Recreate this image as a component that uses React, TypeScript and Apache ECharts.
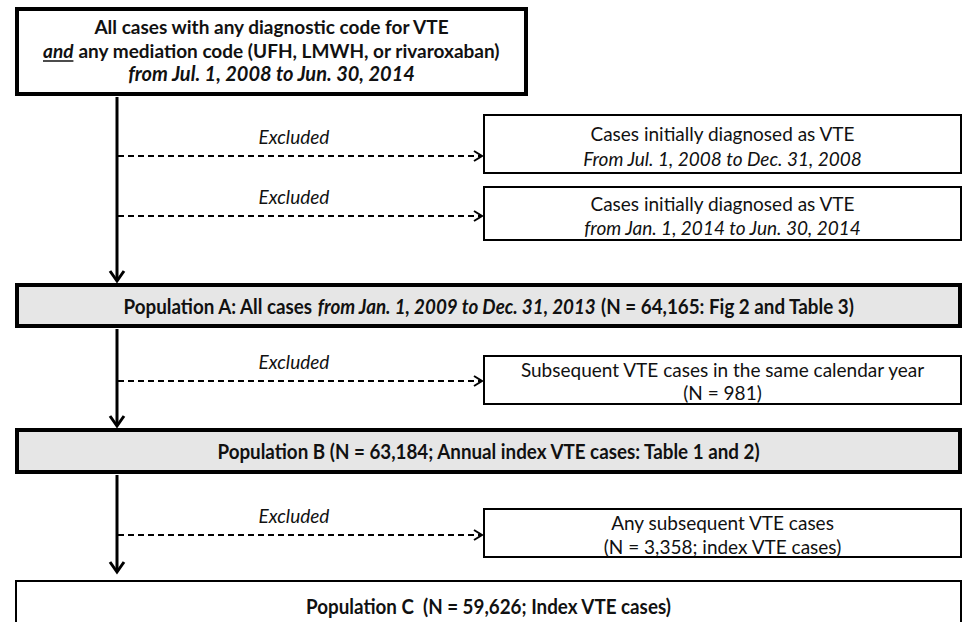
import React, { useEffect, useRef } from "react";
import * as echarts from "echarts";

// ---- content ----
const sourceLine1 = "All cases with any diagnostic code for VTE";
const sourceLine2Lead = "and";
const sourceLine2Rest = " any mediation code (UFH, LMWH, or rivaroxaban)";
const sourceLine3 = "from Jul. 1, 2008 to Jun. 30, 2014";
const excludedLabel = "Excluded";
const exclusionTitles = [
  "Cases initially diagnosed as VTE",
  "Cases initially diagnosed as VTE",
  "Subsequent VTE cases in the same calendar year",
  "Any subsequent VTE cases",
];
const exclusionDetails = [
  "From Jul. 1, 2008 to Dec. 31, 2008",
  "from Jan. 1, 2014 to Jun. 30, 2014",
  "(N = 981)",
  "(N = 3,358; index VTE cases)",
];
const exclusionDetailItalic = [true, true, false, false];
const populationAParts = [
  "Population A: All cases ",
  "from Jan. 1, 2009 to Dec. 31, 2013",
  " (N = 64,165: Fig 2 and Table 3)",
];
const populationBText = "Population B (N = 63,184; Annual index VTE cases: Table 1 and 2)";
const populationCText = "Population C  (N = 59,626; Index VTE cases)";

// ---- layout ----
const FONT = "Lato, 'Open Sans', sans-serif";
const ARROW_X = 117;
const BOX_L = 15;
const BOX_R = 962;
const EX_L = 483;
const EX_CX = (EX_L + BOX_R) / 2;
const EXCL_CX = 294;
const TOP_SIZE = 19;
const TOP_ITALIC_SIZE = 20;
const EX_SIZE = 19;
const POP_SIZE = 20;
const POP_SCALE = 0.94;
// exclusion boxes: [top, bottom, line1 y, line2 y, dashed y]
const exLayout = [
  [114, 174, 133, 158, 156],
  [186, 241, 203, 227, 216],
  [355, 405, 369, 392, 381],
  [508, 558, 522, 546, 535],
];
// solid arrows: [start, tip]
const arrows = [
  [97, 281],
  [329, 426],
  [475, 572],
];

function measure(text: string, font: string): number {
  const c = document.createElement("canvas").getContext("2d");
  if (!c) return text.length * 8;
  c.font = font;
  return c.measureText(text).width;
}

export default function App() {
  const ref = useRef<HTMLDivElement>(null);
  useEffect(() => {
    if (!ref.current) return;
    const chart = echarts.init(ref.current, undefined, { renderer: "svg" });
    const els: any[] = [];

    const rect = (x0: number, y0: number, x1: number, y1: number, lw: number, fill: string) => {
      els.push({
        type: "rect",
        shape: { x: x0 + lw / 2, y: y0 + lw / 2, width: x1 - x0 - lw, height: y1 - y0 - lw },
        style: { fill, stroke: "#000", lineWidth: lw },
      });
    };
    const text = (x: number, y: number, t: string, size: number, weight: string, style: string, scaleX = 1, rich?: any) => {
      els.push({
        type: "text",
        x,
        y,
        scaleX,
        style: {
          text: t,
          fill: "#111",
          fontFamily: FONT,
          fontSize: size,
          fontWeight: weight,
          fontStyle: style,
          align: "center",
          verticalAlign: "middle",
          rich,
        },
      });
    };
    const richStyle = (size: number, weight: string, style: string) => ({
      fontFamily: FONT,
      fontSize: size,
      fontWeight: weight,
      fontStyle: style,
      fill: "#111",
    });

    // Top source box
    rect(BOX_L, 7, 528, 96, 4, "#fff");
    const topCX = (BOX_L + 528) / 2;
    text(topCX, 26, sourceLine1, TOP_SIZE, "bold", "normal");
    text(topCX, 50, `{u|${sourceLine2Lead}}{b|${sourceLine2Rest}}`, TOP_SIZE, "bold", "normal", 1, {
      u: richStyle(TOP_SIZE, "bold", "italic"),
      b: richStyle(TOP_SIZE, "bold", "normal"),
    });
    text(topCX, 73, sourceLine3, TOP_ITALIC_SIZE, "bold", "italic");
    const wLead = measure(sourceLine2Lead, `italic bold ${TOP_SIZE}px ${FONT}`);
    const wRest = measure(sourceLine2Rest, `bold ${TOP_SIZE}px ${FONT}`);
    const left2 = topCX - (wLead + wRest) / 2;
    els.push({
      type: "line",
      shape: { x1: left2, y1: 61, x2: left2 + wLead, y2: 61 },
      style: { stroke: "#111", lineWidth: 1.5 },
    });

    // Exclusion boxes and dashed arrows
    exLayout.forEach(([t, b, l1, l2, dy], i) => {
      rect(EX_L, t, BOX_R, b, 2, "#fff");
      text(EX_CX, l1, exclusionTitles[i], EX_SIZE, "normal", "normal");
      text(EX_CX, l2, exclusionDetails[i], EX_SIZE, "normal", exclusionDetailItalic[i] ? "italic" : "normal");
      text(EXCL_CX, dy - 20, excludedLabel, EX_SIZE, "normal", "italic");
      els.push({
        type: "line",
        shape: { x1: ARROW_X + 1, y1: dy, x2: EX_L - 1, y2: dy },
        style: { stroke: "#000", lineWidth: 2, lineDash: [6, 4] },
      });
      els.push({
        type: "polyline",
        shape: { points: [[EX_L - 9, dy - 5], [EX_L - 1, dy], [EX_L - 9, dy + 5]] },
        style: { stroke: "#000", lineWidth: 2, fill: "none" },
      });
    });

    // Population boxes
    const popCX = (BOX_L + BOX_R) / 2;
    rect(BOX_L, 283, BOX_R, 328, 4, "#e6e6e6");
    text(popCX, 306, `{b|${populationAParts[0]}}{i|${populationAParts[1]}}{b|${populationAParts[2]}}`, POP_SIZE, "bold", "normal", POP_SCALE, {
      b: richStyle(POP_SIZE, "bold", "normal"),
      i: richStyle(POP_SIZE, "bold", "italic"),
    });
    rect(BOX_L, 428, BOX_R, 474, 4, "#e6e6e6");
    text(popCX, 451, populationBText, POP_SIZE, "bold", "normal", POP_SCALE);
    rect(BOX_L, 580, BOX_R, 640, 2, "#fff");
    text(popCX, 606, populationCText, POP_SIZE, "bold", "normal", POP_SCALE);

    // Solid arrows
    arrows.forEach(([y0, tip]) => {
      els.push({
        type: "line",
        shape: { x1: ARROW_X, y1: y0, x2: ARROW_X, y2: tip - 1 },
        style: { stroke: "#000", lineWidth: 3 },
      });
      els.push({
        type: "polyline",
        shape: { points: [[ARROW_X - 7, tip - 10], [ARROW_X, tip], [ARROW_X + 7, tip - 10]] },
        style: { stroke: "#000", lineWidth: 3, fill: "none" },
      });
    });

    chart.setOption({ animation: false, backgroundColor: "#fff", graphic: { elements: els } });
    return () => chart.dispose();
  }, []);
  return <div ref={ref} style={{ position: "fixed", left: 0, top: 0, width: 964, height: 622 }} />;
}
